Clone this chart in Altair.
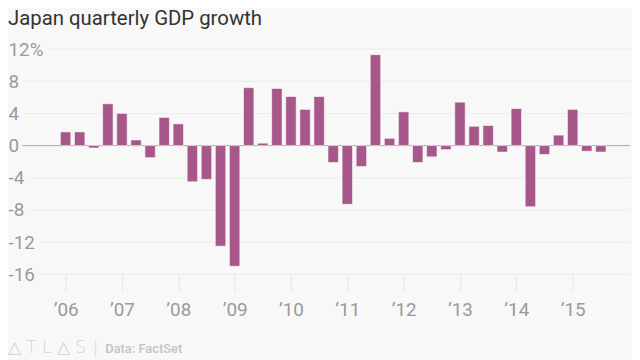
import altair as alt
import pandas as pd

title_text = "Japan quarterly GDP growth"
source_text = "Data: FactSet"
brand_text = "\u25B3 T L \u25B3 S"

years = list(range(2006, 2016))
quarters = [f"{y} Q{q}" for y in years for q in (1, 2, 3, 4)][:39]
growth = [
    1.7, 1.7, -0.3, 5.2,
    4.0, 0.7, -1.5, 3.5,
    2.7, -4.5, -4.2, -12.5,
    -15.0, 7.2, 0.3, 7.1,
    6.1, 4.5, 6.1, -2.1,
    -7.3, -2.6, 11.3, 0.9,
    4.2, -2.1, -1.4, -0.5,
    5.4, 2.4, 2.5, -0.8,
    4.6, -7.6, -1.1, 1.3,
    4.5, -0.7, -0.8,
]
y_ticks = [12, 8, 4, 0, -4, -8, -12, -16]

W, H = 613, 227
FONT = "Roboto"
LABEL_COLOR = "#9a9a9a"

df = pd.DataFrame({"quarter": quarters, "growth": growth})
df["t"] = [int(s[:4]) + (int(s[-1]) - 1) / 4 for s in quarters]

grid_df = pd.DataFrame({"v": [v for v in y_ticks if v != 0]})
grid_df["label"] = ["12%" if v == 12 else str(v) for v in grid_df["v"]]

yscale = alt.Scale(domain=[-16, 12], nice=False, zero=False)
xscale = alt.Scale(domain=[2005.312, 2015.93], nice=False, zero=False)

yaxis = alt.Axis(
    values=y_ticks,
    labelExpr="datum.value == 12 ? '12%' : toString(datum.value)",
    grid=False, domain=False, ticks=False, tickSize=0,
    labelAlign="left", labelPadding=14, labelBaseline="middle",
    labelFontSize=19, labelColor=LABEL_COLOR, labelFont=FONT, title=None,
)
xaxis = alt.Axis(
    values=years,
    labelExpr="'\u2019' + substring(toString(datum.value), 2)",
    grid=False, domain=False, tickSize=17, tickColor="#e6e6e6",
    labelFontSize=19, labelColor=LABEL_COLOR, labelFont=FONT,
    labelPadding=10, title=None,
)

grid = (
    alt.Chart(grid_df)
    .transform_calculate(
        gx="10.5*length(replace(replace(datum.label,'-',''),'%',''))"
           " + (indexof(datum.label,'-')>=0 ? 6 : 0)"
           " + (indexof(datum.label,'%')>=0 ? 13 : 0) - 8"
    )
    .mark_rule(color="#ebebeb", strokeWidth=1)
    .encode(
        x=alt.X("gx:Q", scale=None, axis=None),
        x2=alt.value(W),
        y=alt.Y("v:Q", scale=yscale, axis=yaxis),
    )
)

zero = (
    alt.Chart(pd.DataFrame({"v": [0]}))
    .mark_rule(color="#a8a8a8", strokeWidth=1)
    .encode(y=alt.Y("v:Q", scale=yscale, axis=yaxis))
)

bars = (
    alt.Chart(df)
    .mark_bar(size=10.5, color="#a7578a", stroke="#ffffff", strokeOpacity=0.55, strokeWidth=1)
    .encode(
        x=alt.X("t:Q", scale=xscale, axis=xaxis),
        y=alt.Y("growth:Q", scale=yscale, axis=yaxis),
    )
)

title = (
    alt.Chart(pd.DataFrame({"text": [title_text]}))
    .mark_text(align="left", baseline="alphabetic", fontSize=20.5, font=FONT, color="#333333")
    .encode(x=alt.value(-14), y=alt.value(-24), text="text:N")
)

brand = (
    alt.Chart(pd.DataFrame({"text": [brand_text]}))
    .mark_text(align="left", baseline="alphabetic", fontSize=17, font="DejaVu Sans",
               fontWeight=200, color="#d2d2d2")
    .encode(x=alt.value(-14), y=alt.value(306), text="text:N")
)

sep = (
    alt.Chart(pd.DataFrame({"text": ["|"]}))
    .mark_text(align="left", baseline="alphabetic", fontSize=20, font=FONT,
               fontWeight=300, color="#dddddd")
    .encode(x=alt.value(72), y=alt.value(308), text="text:N")
)

source = (
    alt.Chart(pd.DataFrame({"text": [source_text]}))
    .mark_text(align="left", baseline="alphabetic", fontSize=13, font=FONT,
               fontWeight=500, color="#c4c4c4")
    .encode(x=alt.value(84), y=alt.value(306), text="text:N")
)

chart = (
    alt.layer(grid, zero, bars, title, brand, sep, source)
    .properties(
        width=W, height=H,
        autosize="none",
        padding={"left": 14, "top": 40, "right": 2, "bottom": 85},
        background="#f8f8f8",
    )
    .configure_view(stroke=None)
)

chart.save("out.html", embed_options={"renderer": "svg", "actions": False})
